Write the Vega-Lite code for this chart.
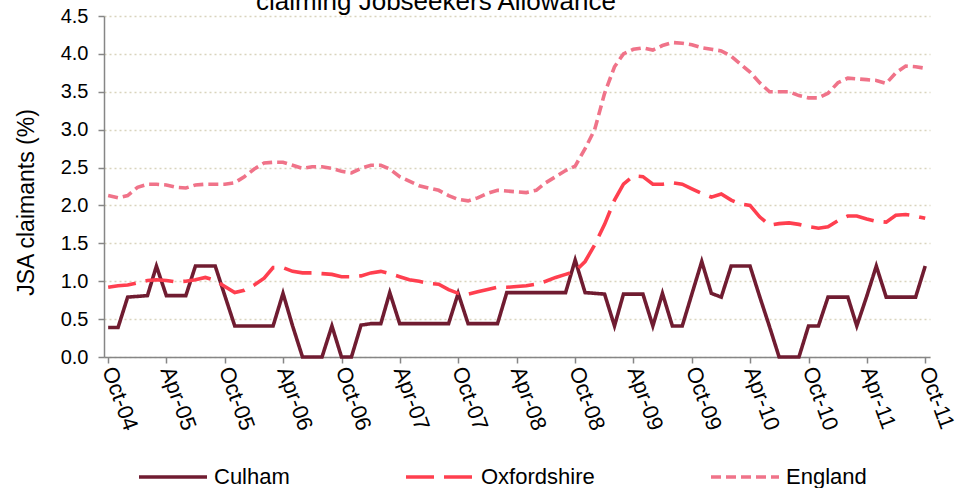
{
  "$schema": "https://vega.github.io/schema/vega-lite/v6.json",
  "width": 826,
  "height": 341,
  "autosize": {"type": "none"},
  "padding": {"left": 104, "top": 16, "right": 38, "bottom": 131},
  "background": "white",
  "config": {
    "font": "Liberation Sans",
    "view": {"stroke": null}
  },
  "title": {
    "text": "claiming Jobseekers Allowance",
    "fontSize": 26,
    "fontWeight": "normal",
    "color": "#000000",
    "anchor": "middle",
    "frame": "group",
    "baseline": "alphabetic",
    "offset": -30,
    "dx": -81
  },
  "data": {
    "values": [
      {"m": "2004-10-01", "Culham": 0.39, "Oxfordshire": 0.92, "England": 2.13},
      {"m": "2004-11-01", "Culham": 0.39, "Oxfordshire": 0.94, "England": 2.10},
      {"m": "2004-12-01", "Culham": 0.79, "Oxfordshire": 0.95, "England": 2.13},
      {"m": "2005-01-01", "Culham": 0.80, "Oxfordshire": 0.98, "England": 2.24},
      {"m": "2005-02-01", "Culham": 0.81, "Oxfordshire": 1.01, "England": 2.28},
      {"m": "2005-03-01", "Culham": 1.20, "Oxfordshire": 1.02, "England": 2.28},
      {"m": "2005-04-01", "Culham": 0.81, "Oxfordshire": 1.01, "England": 2.27},
      {"m": "2005-05-01", "Culham": 0.81, "Oxfordshire": 0.99, "England": 2.24},
      {"m": "2005-06-01", "Culham": 0.81, "Oxfordshire": 1.00, "England": 2.23},
      {"m": "2005-07-01", "Culham": 1.20, "Oxfordshire": 1.02, "England": 2.27},
      {"m": "2005-08-01", "Culham": 1.20, "Oxfordshire": 1.05, "England": 2.28},
      {"m": "2005-09-01", "Culham": 1.20, "Oxfordshire": 1.01, "England": 2.28},
      {"m": "2005-10-01", "Culham": 0.81, "Oxfordshire": 0.93, "England": 2.28},
      {"m": "2005-11-01", "Culham": 0.41, "Oxfordshire": 0.85, "England": 2.30},
      {"m": "2005-12-01", "Culham": 0.41, "Oxfordshire": 0.88, "England": 2.38},
      {"m": "2006-01-01", "Culham": 0.41, "Oxfordshire": 0.95, "England": 2.48},
      {"m": "2006-02-01", "Culham": 0.41, "Oxfordshire": 1.04, "England": 2.56},
      {"m": "2006-03-01", "Culham": 0.41, "Oxfordshire": 1.18, "England": 2.57},
      {"m": "2006-04-01", "Culham": 0.84, "Oxfordshire": 1.18, "England": 2.57},
      {"m": "2006-05-01", "Culham": 0.41, "Oxfordshire": 1.13, "England": 2.53},
      {"m": "2006-06-01", "Culham": 0.00, "Oxfordshire": 1.11, "England": 2.49},
      {"m": "2006-07-01", "Culham": 0.00, "Oxfordshire": 1.11, "England": 2.51},
      {"m": "2006-08-01", "Culham": 0.00, "Oxfordshire": 1.10, "England": 2.51},
      {"m": "2006-09-01", "Culham": 0.41, "Oxfordshire": 1.09, "England": 2.49},
      {"m": "2006-10-01", "Culham": 0.00, "Oxfordshire": 1.06, "England": 2.45},
      {"m": "2006-11-01", "Culham": 0.00, "Oxfordshire": 1.06, "England": 2.43},
      {"m": "2006-12-01", "Culham": 0.42, "Oxfordshire": 1.07, "England": 2.49},
      {"m": "2007-01-01", "Culham": 0.44, "Oxfordshire": 1.11, "England": 2.53},
      {"m": "2007-02-01", "Culham": 0.44, "Oxfordshire": 1.13, "England": 2.53},
      {"m": "2007-03-01", "Culham": 0.85, "Oxfordshire": 1.10, "England": 2.48},
      {"m": "2007-04-01", "Culham": 0.44, "Oxfordshire": 1.06, "England": 2.38},
      {"m": "2007-05-01", "Culham": 0.44, "Oxfordshire": 1.02, "England": 2.32},
      {"m": "2007-06-01", "Culham": 0.44, "Oxfordshire": 1.00, "England": 2.26},
      {"m": "2007-07-01", "Culham": 0.44, "Oxfordshire": 0.97, "England": 2.23},
      {"m": "2007-08-01", "Culham": 0.44, "Oxfordshire": 0.96, "England": 2.20},
      {"m": "2007-09-01", "Culham": 0.44, "Oxfordshire": 0.89, "England": 2.13},
      {"m": "2007-10-01", "Culham": 0.84, "Oxfordshire": 0.84, "England": 2.08},
      {"m": "2007-11-01", "Culham": 0.44, "Oxfordshire": 0.83, "England": 2.06},
      {"m": "2007-12-01", "Culham": 0.44, "Oxfordshire": 0.86, "England": 2.10},
      {"m": "2008-01-01", "Culham": 0.44, "Oxfordshire": 0.89, "England": 2.16},
      {"m": "2008-02-01", "Culham": 0.44, "Oxfordshire": 0.92, "England": 2.20},
      {"m": "2008-03-01", "Culham": 0.85, "Oxfordshire": 0.92, "England": 2.19},
      {"m": "2008-04-01", "Culham": 0.85, "Oxfordshire": 0.93, "England": 2.18},
      {"m": "2008-05-01", "Culham": 0.85, "Oxfordshire": 0.94, "England": 2.17},
      {"m": "2008-06-01", "Culham": 0.85, "Oxfordshire": 0.96, "England": 2.20},
      {"m": "2008-07-01", "Culham": 0.85, "Oxfordshire": 1.00, "England": 2.30},
      {"m": "2008-08-01", "Culham": 0.85, "Oxfordshire": 1.05, "England": 2.38},
      {"m": "2008-09-01", "Culham": 0.85, "Oxfordshire": 1.09, "England": 2.46},
      {"m": "2008-10-01", "Culham": 1.28, "Oxfordshire": 1.13, "England": 2.52},
      {"m": "2008-11-01", "Culham": 0.85, "Oxfordshire": 1.26, "England": 2.75},
      {"m": "2008-12-01", "Culham": 0.84, "Oxfordshire": 1.48, "England": 3.00},
      {"m": "2009-01-01", "Culham": 0.83, "Oxfordshire": 1.75, "England": 3.48},
      {"m": "2009-02-01", "Culham": 0.41, "Oxfordshire": 2.07, "England": 3.83},
      {"m": "2009-03-01", "Culham": 0.83, "Oxfordshire": 2.28, "England": 4.00},
      {"m": "2009-04-01", "Culham": 0.83, "Oxfordshire": 2.39, "England": 4.06},
      {"m": "2009-05-01", "Culham": 0.83, "Oxfordshire": 2.38, "England": 4.08},
      {"m": "2009-06-01", "Culham": 0.41, "Oxfordshire": 2.28, "England": 4.05},
      {"m": "2009-07-01", "Culham": 0.84, "Oxfordshire": 2.28, "England": 4.11},
      {"m": "2009-08-01", "Culham": 0.41, "Oxfordshire": 2.30, "England": 4.15},
      {"m": "2009-09-01", "Culham": 0.41, "Oxfordshire": 2.28, "England": 4.14},
      {"m": "2009-10-01", "Culham": 0.83, "Oxfordshire": 2.22, "England": 4.12},
      {"m": "2009-11-01", "Culham": 1.26, "Oxfordshire": 2.16, "England": 4.08},
      {"m": "2009-12-01", "Culham": 0.84, "Oxfordshire": 2.11, "England": 4.06},
      {"m": "2010-01-01", "Culham": 0.79, "Oxfordshire": 2.15, "England": 4.04},
      {"m": "2010-02-01", "Culham": 1.20, "Oxfordshire": 2.07, "England": 3.97},
      {"m": "2010-03-01", "Culham": 1.20, "Oxfordshire": 2.02, "England": 3.87},
      {"m": "2010-04-01", "Culham": 1.20, "Oxfordshire": 2.00, "England": 3.76},
      {"m": "2010-05-01", "Culham": 0.80, "Oxfordshire": 1.85, "England": 3.62},
      {"m": "2010-06-01", "Culham": 0.40, "Oxfordshire": 1.74, "England": 3.50},
      {"m": "2010-07-01", "Culham": 0.00, "Oxfordshire": 1.76, "England": 3.50},
      {"m": "2010-08-01", "Culham": 0.00, "Oxfordshire": 1.77, "England": 3.50},
      {"m": "2010-09-01", "Culham": 0.00, "Oxfordshire": 1.75, "England": 3.45},
      {"m": "2010-10-01", "Culham": 0.41, "Oxfordshire": 1.72, "England": 3.42},
      {"m": "2010-11-01", "Culham": 0.41, "Oxfordshire": 1.70, "England": 3.42},
      {"m": "2010-12-01", "Culham": 0.79, "Oxfordshire": 1.72, "England": 3.48},
      {"m": "2011-01-01", "Culham": 0.79, "Oxfordshire": 1.80, "England": 3.62},
      {"m": "2011-02-01", "Culham": 0.79, "Oxfordshire": 1.86, "England": 3.68},
      {"m": "2011-03-01", "Culham": 0.41, "Oxfordshire": 1.86, "England": 3.67},
      {"m": "2011-04-01", "Culham": 0.80, "Oxfordshire": 1.82, "England": 3.66},
      {"m": "2011-05-01", "Culham": 1.20, "Oxfordshire": 1.79, "England": 3.65},
      {"m": "2011-06-01", "Culham": 0.79, "Oxfordshire": 1.78, "England": 3.61},
      {"m": "2011-07-01", "Culham": 0.79, "Oxfordshire": 1.87, "England": 3.75},
      {"m": "2011-08-01", "Culham": 0.79, "Oxfordshire": 1.88, "England": 3.84},
      {"m": "2011-09-01", "Culham": 0.79, "Oxfordshire": 1.86, "England": 3.83},
      {"m": "2011-10-01", "Culham": 1.20, "Oxfordshire": 1.83, "England": 3.81}
    ]
  },
  "transform": [
    {"fold": ["Culham", "Oxfordshire", "England"], "as": ["series", "value"]}
  ],
  "mark": {"type": "line", "strokeWidth": 3.6, "strokeCap": "butt", "strokeJoin": "miter"},
  "encoding": {
    "x": {
      "field": "m",
      "type": "temporal",
      "scale": {
        "type": "utc",
        "domain": [
          {"year": 2004, "month": 9, "date": 18, "utc": true},
          {"year": 2011, "month": 10, "date": 16, "utc": true}
        ]
      },
      "axis": {
        "title": null,
        "values": [
          {"year": 2004, "month": 10, "date": 1, "utc": true},
          {"year": 2005, "month": 4, "date": 1, "utc": true},
          {"year": 2005, "month": 10, "date": 1, "utc": true},
          {"year": 2006, "month": 4, "date": 1, "utc": true},
          {"year": 2006, "month": 10, "date": 1, "utc": true},
          {"year": 2007, "month": 4, "date": 1, "utc": true},
          {"year": 2007, "month": 10, "date": 1, "utc": true},
          {"year": 2008, "month": 4, "date": 1, "utc": true},
          {"year": 2008, "month": 10, "date": 1, "utc": true},
          {"year": 2009, "month": 4, "date": 1, "utc": true},
          {"year": 2009, "month": 10, "date": 1, "utc": true},
          {"year": 2010, "month": 4, "date": 1, "utc": true},
          {"year": 2010, "month": 10, "date": 1, "utc": true},
          {"year": 2011, "month": 4, "date": 1, "utc": true},
          {"year": 2011, "month": 10, "date": 1, "utc": true}
        ],
        "labelExpr": "utcFormat(datum.value, '%b-%y')",
        "labelAngle": 70,
        "labelAlign": "left",
        "labelBaseline": "middle",
        "labelFontSize": 22,
        "labelColor": "#000000",
        "labelPadding": 4,
        "labelOverlap": false,
        "labelBound": false,
        "labelFlush": false,
        "grid": false,
        "domainColor": "#868686",
        "domainWidth": 1.5,
        "tickColor": "#868686",
        "tickWidth": 1.5,
        "tickSize": 6
      }
    },
    "y": {
      "field": "value",
      "type": "quantitative",
      "scale": {"domain": [0, 4.5], "nice": false, "zero": true},
      "axis": {
        "title": "JSA claimants (%)",
        "titleFontSize": 23,
        "titleFontWeight": "normal",
        "titleColor": "#000000",
        "titlePadding": 22,
        "titleY": 186,
        "values": [0, 0.5, 1, 1.5, 2, 2.5, 3, 3.5, 4, 4.5],
        "format": ".1f",
        "labelFontSize": 20,
        "labelColor": "#000000",
        "labelPadding": 10,
        "domainColor": "#868686",
        "domainWidth": 1.5,
        "tickColor": "#868686",
        "tickWidth": 1.5,
        "tickSize": 6,
        "grid": true,
        "gridColor": "#d9d4bd",
        "gridDash": [2, 3],
        "gridWidth": 1.5
      }
    },
    "color": {
      "field": "series",
      "type": "nominal",
      "scale": {
        "domain": ["Culham", "Oxfordshire", "England"],
        "range": ["#701c31", "#ff3f4f", "#f07389"]
      },
      "legend": {
        "title": null,
        "orient": "none",
        "direction": "horizontal",
        "legendX": 33,
        "legendY": 425,
        "symbolType": "stroke",
        "symbolSize": 4624,
        "symbolStrokeWidth": 3.6,
        "labelFontSize": 22,
        "labelColor": "#000000",
        "labelOffset": 5,
        "columnPadding": 108
      }
    },
    "strokeDash": {
      "field": "series",
      "type": "nominal",
      "scale": {
        "domain": ["Culham", "Oxfordshire", "England"],
        "range": [[1, 0], [28, 10], [10, 5]]
      },
      "legend": null
    }
  }
}
